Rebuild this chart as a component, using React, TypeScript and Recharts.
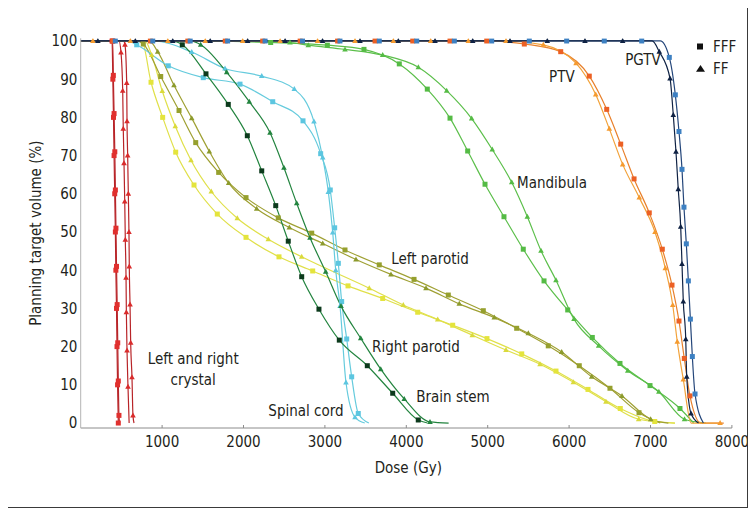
import { Legend, Line, LineChart, ReferenceDot, XAxis, YAxis } from "recharts";

type Pt = [number, number];

const doseTicks = [1000, 2000, 3000, 4000, 5000, 6000, 7000, 8000];
const volumeTicks = [0, 10, 20, 30, 40, 50, 60, 70, 80, 90, 100];

// each curve: points carrying a marker + a few plain knots (start / corners / end)
const crystalLeftFFF: Pt[] = [[385, 100], [395, 90], [403, 80], [410, 70], [418, 60], [426, 50], [432, 40], [440, 30], [446, 20], [453, 10], [462, 0]];
const crystalLeftFFFKnots: Pt[] = [[0, 100]];
const crystalRightFFF: Pt[] = [[392, 100], [401, 91], [410, 81], [419, 71], [426, 61], [433, 51], [440, 41], [448, 31], [455, 21], [462, 11], [470, 2]];
const crystalRightFFFKnots: Pt[] = [[0, 100], [478, 0]];
const crystalLeftFF: Pt[] = [[495, 97], [516, 87], [523, 77], [532, 68], [541, 58], [548, 48], [557, 38], [561, 29], [569, 19], [581, 9.5]];
const crystalLeftFFKnots: Pt[] = [[0, 100], [470, 100], [595, 0]];
const crystalRightFF: Pt[] = [[544, 99], [565, 89], [569, 79], [577, 70], [585, 60], [593, 50], [597, 41], [606, 31], [614, 21], [630, 12], [642, 2]];
const crystalRightFFKnots: Pt[] = [[0, 100], [525, 100], [655, 0]];

const rightParotidFFF: Pt[] = [[864, 89.2], [1007, 80], [1167, 70.9], [1392, 62.3], [1678, 54.7], [2031, 48.6], [2436, 43.5], [2850, 39.8], [3284, 35.9], [3710, 32.6], [4140, 29], [4570, 25.6], [4991, 22.1], [5418, 18.1], [5839, 13.6], [6232, 8.8], [6629, 3.8], [7052, 0.4]];
const rightParotidFFFKnots: Pt[] = [[0, 100], [750, 100], [7300, 0]];
const rightParotidFF: Pt[] = [[872, 96.3], [1002, 86.9], [1162, 77.7], [1355, 68.8], [1604, 60.6], [1924, 53.6], [2305, 48.1], [2715, 43.5], [3545, 35.3], [3963, 30.9], [4386, 27.1], [4811, 23], [5225, 19.1], [5643, 15.4], [6052, 10.7], [6453, 5.6], [6855, 1]];
const rightParotidFFKnots: Pt[] = [[0, 100], [790, 100], [7300, 0]];

const leftParotidFFF: Pt[] = [[769, 99.2], [983, 90.7], [1208, 81.8], [1413, 73.4], [1695, 65.6], [2031, 59], [2427, 53.7], [2838, 49.7], [3247, 45.3], [3668, 41.4], [4095, 37.6], [4516, 33.5], [4946, 29.4], [5356, 24.8], [5744, 20.2], [6125, 15], [6502, 9.1], [6859, 2.7]];
const leftParotidFFFKnots: Pt[] = [[0, 100], [680, 100], [7120, 0]];
const leftParotidFF: Pt[] = [[946, 97.2], [1146, 88.4], [1364, 79.8], [1580, 71.1], [1818, 62.8], [2162, 56.1], [2563, 51.2], [2973, 47], [3382, 42.8], [3812, 38.9], [4242, 35.3], [4651, 31.2], [5081, 27.6], [5499, 23.5], [5909, 18.6], [6278, 12.1], [6650, 7.1], [7002, 1]];
const leftParotidFFKnots: Pt[] = [[0, 100], [840, 100], [7220, 0]];

const spinalCordFFF: Pt[] = [[688, 99], [1076, 93.5], [1506, 90.4], [1957, 88.7], [2359, 84.1], [2731, 79.1], [2948, 70.5], [3066, 61], [3120, 51.1], [3165, 41.8], [3206, 31.8], [3268, 22], [3329, 12.1], [3410, 2.5]];
const spinalCordFFFKnots: Pt[] = [[0, 100], [580, 100], [3540, 0]];
const spinalCordFF: Pt[] = [[1364, 97.1], [1773, 92.8], [2224, 90.8], [2624, 87.4], [2866, 78.9], [2973, 69.5], [3042, 60.5], [3096, 49.9], [3133, 40], [3186, 30.6], [3259, 10.6], [3370, 1.5]];
const spinalCordFFKnots: Pt[] = [[0, 100], [900, 100], [3490, 0]];

const brainStemFFF: Pt[] = [[1248, 99], [1539, 91.4], [1813, 83.4], [2047, 75.2], [2224, 66], [2396, 56.9], [2550, 47.6], [2715, 38.3], [2927, 29.8], [3177, 21.7], [3521, 15], [3833, 7.8], [4147, 0.8]];
const brainStemFFFKnots: Pt[] = [[0, 100], [1120, 100], [4260, 0]];
const brainStemFF: Pt[] = [[1474, 99], [1794, 91.8], [2071, 84.1], [2326, 76], [2497, 66.8], [2654, 57.5], [2817, 48.5], [3010, 39.6], [3198, 30.6], [3440, 22.2], [3686, 14.1], [3975, 6.3], [4291, 0.3]];
const brainStemFFKnots: Pt[] = [[0, 100], [1350, 100], [4520, 0]];

const mandibulaFFF: Pt[] = [[2334, 99.6], [3030, 98.9], [3480, 97.8], [3914, 94], [4258, 87.4], [4537, 79.8], [4754, 71.2], [4967, 62.5], [5200, 54], [5437, 45.5], [5692, 37.2], [5983, 29.6], [6285, 22.4], [6625, 15.6], [6994, 9.8], [7362, 3.8]];
const mandibulaFFFKnots: Pt[] = [[0, 100], [1300, 100], [7530, 0]];
const mandibulaFF: Pt[] = [[2571, 99.6], [2796, 98.9], [3247, 97.8], [3710, 96.3], [4148, 93.1], [4496, 87], [4803, 79.7], [5056, 71.6], [5295, 63], [5487, 54], [5655, 45.1], [5839, 37.4], [6060, 27.2], [6363, 20.2], [6721, 13.7], [7103, 8.2], [7418, 1]];
const mandibulaFFKnots: Pt[] = [[0, 100], [1300, 100], [7680, 0]];

const ptvFFF: Pt[] = [[396, 100], [856, 100], [1316, 100], [1776, 100], [2236, 100], [2696, 100], [3156, 100], [3616, 100], [4079, 100], [4537, 100], [4988, 100], [5450, 99.2], [5897, 97.2], [6248, 90.8], [6462, 82.1], [6634, 73], [6798, 63.9], [6985, 55], [7145, 45.5], [7264, 36.1], [7350, 26.7], [7415, 16.9], [7485, 7.1]];
const ptvFFFKnots: Pt[] = [[0, 100], [7620, 0], [7900, 0]];
const ptvFF: Pt[] = [[150, 100], [610, 100], [1070, 100], [1530, 100], [1990, 100], [2450, 100], [2910, 100], [3370, 100], [3841, 100], [4300, 100], [4762, 100], [5225, 100], [5683, 99], [6085, 94.2], [6327, 86], [6494, 77], [6658, 67.7], [6862, 59], [7055, 50], [7182, 40.5], [7273, 30.9], [7329, 21.3], [7403, 11.4], [7855, 0]];
const ptvFFKnots: Pt[] = [[0, 100], [7500, 0]];

const pgtvFFF: Pt[] = [[425, 100], [885, 100], [1345, 100], [1805, 100], [2265, 100], [2725, 100], [3185, 100], [3668, 100], [4128, 100], [4590, 100], [5049, 100], [5511, 100], [5970, 100], [6432, 100], [6892, 100], [7231, 95.7], [7305, 85.9], [7350, 76.3], [7387, 66.4], [7411, 56.5], [7440, 46.9], [7465, 37.2], [7490, 27.2], [7514, 17.4], [7547, 7.6]];
const pgtvFFFKnots: Pt[] = [[0, 100], [7120, 100], [7650, 0]];
const pgtvFF: Pt[] = [[211, 100], [671, 100], [1131, 100], [1591, 100], [2051, 100], [2511, 100], [2971, 100], [3431, 100], [3902, 100], [4353, 100], [4816, 100], [5274, 100], [5732, 100], [6195, 100], [6658, 100], [7108, 97.2], [7240, 90.2], [7280, 80.6], [7313, 71], [7341, 61.2], [7371, 51.4], [7387, 41.6], [7403, 31.8], [7433, 21.9], [7445, 12.1], [7498, 2.5]];
const pgtvFFKnots: Pt[] = [[0, 100], [7020, 100], [7590, 0]];

const annotations = [
  { text: "PGTV", dose: 6908, vol: 95 },
  { text: "PTV", dose: 5911, vol: 90.6 },
  { text: "Mandibula", dose: 5790, vol: 62.8 },
  { text: "Left parotid", dose: 4291, vol: 42.9 },
  { text: "Right parotid", dose: 4119, vol: 19.9 },
  { text: "Brain stem", dose: 4574, vol: 6.8 },
  { text: "Spinal cord", dose: 2768, vol: 3.1 },
  { text: "Left and right", dose: 1382, vol: 16.8 },
  { text: "crystal", dose: 1382, vol: 11.3 },
];

const FONT = "'DejaVu Sans Condensed', 'Liberation Sans Narrow', 'DejaVu Sans', sans-serif";
const INK = "#231f20";

type Kind = "square" | "triangle";

const SERIES: { id: string; marks: Pt[]; knots: Pt[]; kind: Kind; line: string; fill: string }[] = [
  { id: "crystalLeftFFF", marks: crystalLeftFFF, knots: crystalLeftFFFKnots, kind: "square", line: "#b82428", fill: "#e0302e" },
  { id: "crystalRightFFF", marks: crystalRightFFF, knots: crystalRightFFFKnots, kind: "square", line: "#b82428", fill: "#e0302e" },
  { id: "crystalLeftFF", marks: crystalLeftFF, knots: crystalLeftFFKnots, kind: "triangle", line: "#b82428", fill: "#d92b2b" },
  { id: "crystalRightFF", marks: crystalRightFF, knots: crystalRightFFKnots, kind: "triangle", line: "#b82428", fill: "#d92b2b" },
  { id: "mandibulaFFF", marks: mandibulaFFF, knots: mandibulaFFFKnots, kind: "square", line: "#5cbf4b", fill: "#55bb45" },
  { id: "mandibulaFF", marks: mandibulaFF, knots: mandibulaFFKnots, kind: "triangle", line: "#5cbf4b", fill: "#55bb45" },
  { id: "rightParotidFFF", marks: rightParotidFFF, knots: rightParotidFFFKnots, kind: "square", line: "#e0e04a", fill: "#e4e43c" },
  { id: "rightParotidFF", marks: rightParotidFF, knots: rightParotidFFKnots, kind: "triangle", line: "#e0e04a", fill: "#dada3c" },
  { id: "leftParotidFFF", marks: leftParotidFFF, knots: leftParotidFFFKnots, kind: "square", line: "#9fa033", fill: "#96a02e" },
  { id: "leftParotidFF", marks: leftParotidFF, knots: leftParotidFFKnots, kind: "triangle", line: "#9fa033", fill: "#8c9a2c" },
  { id: "spinalCordFFF", marks: spinalCordFFF, knots: spinalCordFFFKnots, kind: "square", line: "#66cbdd", fill: "#5cc6e0" },
  { id: "spinalCordFF", marks: spinalCordFF, knots: spinalCordFFKnots, kind: "triangle", line: "#66cbdd", fill: "#5cc6e0" },
  { id: "brainStemFFF", marks: brainStemFFF, knots: brainStemFFFKnots, kind: "square", line: "#23843f", fill: "#0c3a1c" },
  { id: "brainStemFF", marks: brainStemFF, knots: brainStemFFKnots, kind: "triangle", line: "#23843f", fill: "#23843f" },
  { id: "ptvFFF", marks: ptvFFF, knots: ptvFFFKnots, kind: "square", line: "#e8802c", fill: "#ec6024" },
  { id: "ptvFF", marks: ptvFF, knots: ptvFFKnots, kind: "triangle", line: "#f2a23a", fill: "#f59a2e" },
  { id: "pgtvFFF", marks: pgtvFFF, knots: pgtvFFFKnots, kind: "square", line: "#24467a", fill: "#3d80c2" },
  { id: "pgtvFF", marks: pgtvFF, knots: pgtvFFKnots, kind: "triangle", line: "#0f2244", fill: "#0f2244" },
];

const toRows = (marks: Pt[], knots: Pt[]) =>
  [
    ...marks.map(([d, v]) => ({ d, v, m: true })),
    ...knots.map(([d, v]) => ({ d, v, m: false })),
  ].sort((a, b) => a.d - b.d);

const makeDot = (kind: Kind, color: string) => (props: any) => {
  const { cx, cy, payload, index } = props;
  const key = `dot-${index}`;
  if (!payload?.m || cx == null || cy == null) return <g key={key} />;
  if (kind === "square") {
    return <rect key={key} x={cx - 2.5} y={cy - 2.5} width={5} height={5} fill={color} />;
  }
  return (
    <path
      key={key}
      d={`M${cx},${cy - 3} L${cx + 2.8},${cy + 2} L${cx - 2.8},${cy + 2} Z`}
      fill={color}
    />
  );
};

const XTick = (props: any) => {
  const { x, y, payload } = props;
  return (
    <g>
      <line x1={x} x2={x} y1={y - 8} y2={y - 11} stroke="#8c8c8c" />
      <text x={x} y={y} dy="0.71em" textAnchor="middle" fill={INK} fontSize={15} fontFamily={FONT}>
        {payload.value}
      </text>
    </g>
  );
};

const YTitle = (props: any) => {
  const vb = props.viewBox;
  const cx = vb.x + 20;
  const cy = vb.y + vb.height / 2;
  return (
    <text
      x={cx}
      y={cy}
      transform={`rotate(-90 ${cx} ${cy})`}
      textAnchor="middle"
      dominantBaseline="central"
      fill={INK}
      fontSize={15}
      fontFamily={FONT}
    >
      Planning target volume (%)
    </text>
  );
};

const XTitle = (props: any) => {
  const vb = props.viewBox;
  return (
    <text
      x={vb.x + vb.width / 2 + 2}
      y={vb.y + 40}
      textAnchor="middle"
      dominantBaseline="central"
      fill={INK}
      fontSize={15}
      fontFamily={FONT}
    >
      Dose (Gy)
    </text>
  );
};

const LegendBox = () => (
  <svg width={56} height={40} style={{ display: "block", overflow: "visible" }}>
    <rect x={2} y={8.5} width={6} height={6} fill="#111" />
    <text x={18} y={11.5} dominantBaseline="central" fill={INK} fontSize={15} fontFamily={FONT}>
      FFF
    </text>
    <path d="M5.5,30 L10,36.7 L1,36.7 Z" fill="#111" />
    <text x={18} y={33.5} dominantBaseline="central" fill={INK} fontSize={15} fontFamily={FONT}>
      FF
    </text>
  </svg>
);

export default function App() {
  return (
    <div style={{ position: "relative", width: 740, height: 500 }}>
      <LineChart width={740} height={500} margin={{ top: 30.3, right: 16.1, left: 8, bottom: 0 }}>
        <XAxis
          dataKey="d"
          type="number"
          domain={[0, 8000]}
          ticks={doseTicks}
          allowDataOverflow
          height={80}
          tickSize={0}
          tickMargin={8}
          tickLine={false}
          axisLine={{ stroke: "#8c8c8c" }}
          tick={<XTick />}
          label={{ content: <XTitle /> }}
        />
        <YAxis
          dataKey="v"
          type="number"
          domain={[-1.3, 100.7]}
          ticks={volumeTicks}
          allowDataOverflow
          width={64.7}
          tickSize={0}
          tickMargin={3.4}
          tickLine={false}
          axisLine={{ stroke: "#b4b4b4" }}
          tick={{ fill: INK, fontSize: 15, fontFamily: FONT }}
          label={{ content: <YTitle /> }}
        />
        <Legend
          verticalAlign="middle"
          layout="horizontal"
          content={<LegendBox />}
          wrapperStyle={{ left: 687, top: 27, width: 56, height: 40 }}
        />
        {SERIES.map((s) => (
          <Line
            key={s.id}
            data={toRows(s.marks, s.knots)}
            dataKey="v"
            type="monotone"
            stroke={s.line}
            strokeWidth={1.2}
            dot={makeDot(s.kind, s.fill)}
            activeDot={false}
            legendType="none"
            isAnimationActive={false}
          />
        ))}
        {annotations.map((a) => (
          <ReferenceDot
            key={a.text}
            x={a.dose}
            y={a.vol}
            r={0}
            ifOverflow="visible"
            shape={(p: any) => (
              <text
                x={p.cx}
                y={p.cy}
                textAnchor="middle"
                dominantBaseline="central"
                fill={INK}
                fontSize={15}
                fontFamily={FONT}
              >
                {a.text}
              </text>
            )}
          />
        ))}
      </LineChart>
      <div
        style={{
          position: "absolute",
          left: -1,
          top: -8,
          width: 741,
          height: 508,
          boxSizing: "border-box",
          borderLeft: "1px solid #3a3a3a",
          borderRight: "1px solid #3a3a3a",
          borderBottom: "1px solid #3a3a3a",
          pointerEvents: "none",
          zIndex: 5,
        }}
      />
    </div>
  );
}
